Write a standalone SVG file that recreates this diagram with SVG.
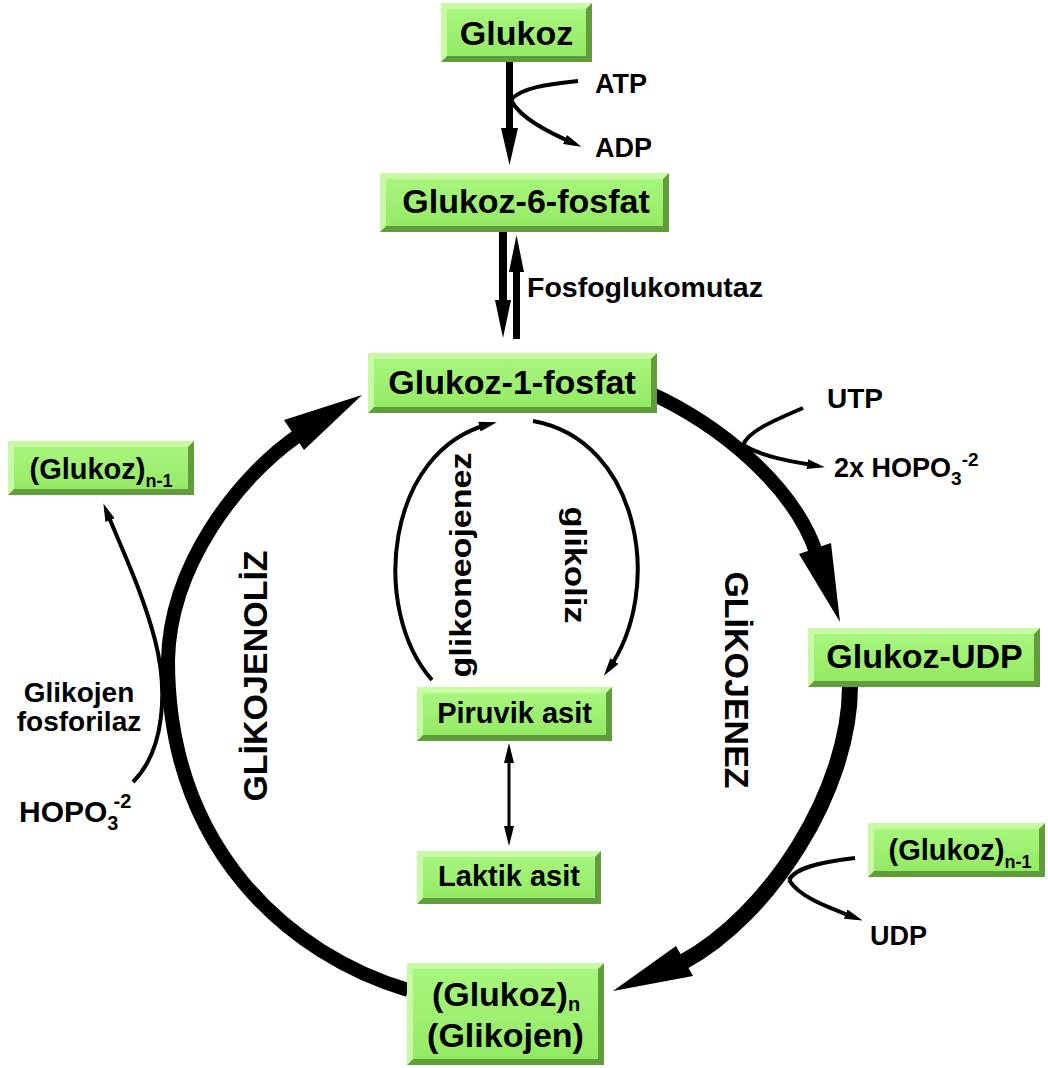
<svg xmlns="http://www.w3.org/2000/svg" width="1048" height="1068" viewBox="0 0 1048 1068">
<style>
  text { font-family: "Liberation Sans", Arial, sans-serif; font-weight: bold; fill: #000; }
  .bo { fill: #5f9e3a; }
  .bl { fill: #c8f9a4; }
  .bi { fill: url(#face); }
  .thin { fill: none; stroke: #000; stroke-width: 4; }
  .thick { fill: none; stroke: #000; }
  .ah { fill: #000; }
  .nt { font-size: 34px; text-anchor: middle; }
  .ns { font-size: 29px; text-anchor: middle; }
  .lb { font-size: 27px; }
</style>
<defs>
  <linearGradient id="face" x1="0" y1="0" x2="0" y2="1">
    <stop offset="0" stop-color="#a8f67e"/>
    <stop offset="1" stop-color="#94ea64"/>
  </linearGradient>
  <marker id="arr" markerUnits="userSpaceOnUse" viewBox="0 0 18 10" markerWidth="18" markerHeight="10" refX="11" refY="5" orient="auto">
    <path d="M0,0 L18,5 L0,10 z" fill="#000"/>
  </marker>
</defs>

<g id="connectors">
  <!-- Glukoz -> Glukoz-6-fosfat -->
  <rect x="506" y="62" width="7" height="68" class="ah"/>
  <polygon points="501,128 518,128 509.5,165" class="ah"/>
  <path class="thin" d="M578,81 C548,84 520,88 511,100"/>
  <path class="thin" d="M511,100 C520,118 548,132 575,144" marker-end="url(#arr)"/>
  <!-- G6P <-> G1P -->
  <rect x="499" y="232" width="8" height="70" class="ah"/>
  <polygon points="495,300 511,300 503,338" class="ah"/>
  <rect x="513" y="268" width="7" height="71" class="ah"/>
  <polygon points="509,272 524,272 516.5,235" class="ah"/>
  <!-- Glikojenez upper arc -->
  <path class="thick" stroke-width="14" d="M650,393 C720,425 793,485 816,552"/>
  <polygon points="840,622 799,554 831,543" class="ah"/>
  <path class="thin" d="M803,408 C770,422 748,432 743,445"/>
  <path class="thin" d="M743,445 C765,458 795,462 818,466" marker-end="url(#arr)"/>
  <!-- Glikojenez lower arc -->
  <path class="thick" stroke-width="16" d="M850,686 C850,790 770,915 683,962"/>
  <polygon points="613,991 676,946 693,976" class="ah"/>
  <path class="thin" d="M855,858 C820,862 795,868 789,880"/>
  <path class="thin" d="M789,880 C800,898 830,908 856,918" marker-end="url(#arr)"/>
  <!-- Glikojenoliz arc -->
  <path class="thick" stroke-width="14" d="M408,990 C290,955 168,850 168,660 C170,565 238,478 296,437"/>
  <polygon points="362,395 284,420 304,450" class="ah"/>
  <path class="thin" d="M133,782 C165,750 168,690 155,640 C142,590 120,545 106,510" marker-end="url(#arr)"/>
  <!-- glikoneojenez / glikoliz -->
  <path class="thin" d="M432,680 C370,610 385,450 490,424" marker-end="url(#arr)"/>
  <path class="thin" d="M533,421 C640,440 665,590 608,670" marker-end="url(#arr)"/>
  <!-- Piruvik <-> Laktik -->
  <line x1="509" y1="758" x2="509" y2="832" stroke="#000" stroke-width="3"/>
  <polygon points="509,743 504,763 514,763" class="ah"/>
  <polygon points="509,846 504,826 514,826" class="ah"/>
</g>

<g id="labels">
  <text class="lb" x="595" y="93">ATP</text>
  <text class="lb" x="595" y="157">ADP</text>
  <text x="527" y="297" font-size="28.5">Fosfoglukomutaz</text>
  <text x="827" y="408" font-size="28">UTP</text>
  <text class="lb" x="834" y="477">2x HOPO<tspan font-size="19" dy="8">3</tspan><tspan font-size="19" dy="-19">-2</tspan></text>
  <text class="lb" x="870" y="945">UDP</text>
  <text x="79" y="702" font-size="28" text-anchor="middle">Glikojen</text>
  <text x="79" y="731" font-size="28" text-anchor="middle">fosforilaz</text>
  <text x="19" y="822" font-size="30">HOPO<tspan font-size="20" dy="8">3</tspan><tspan font-size="20" dy="-22" dx="-5">-2</tspan></text>
  <text font-size="34" text-anchor="middle" transform="translate(267,676) rotate(-90)">GLİKOJENOLİZ</text>
  <text font-size="34" text-anchor="middle" transform="translate(725,680) rotate(90)">GLİKOJENEZ</text>
  <text font-size="29" text-anchor="middle" textLength="225" lengthAdjust="spacingAndGlyphs" transform="translate(471,565) rotate(-90)">glikoneojenez</text>
  <text font-size="29" text-anchor="middle" textLength="117" lengthAdjust="spacingAndGlyphs" transform="translate(565,565) rotate(90)">glikoliz</text>
</g>

<g id="n-glukoz">
  <rect x="441" y="3" width="151" height="59" class="bo"/>
  <polygon points="441,3 592,3 586,9 447,9 447,56 441,62" class="bl"/>
  <rect x="447" y="9" width="139" height="47" class="bi"/>
  <text class="nt" x="516.5" y="45" font-size="33">Glukoz</text>
</g>
<g id="n-g6p">
  <rect x="380" y="173" width="289" height="59" class="bo"/>
  <polygon points="380,173 669,173 663,179 386,179 386,226 380,232" class="bl"/>
  <rect x="386" y="179" width="277" height="47" class="bi"/>
  <text class="nt" x="526" y="213">Glukoz-6-fosfat</text>
</g>
<g id="n-g1p">
  <rect x="368" y="353" width="289" height="60" class="bo"/>
  <polygon points="368,353 657,353 651,359 374,359 374,407 368,413" class="bl"/>
  <rect x="374" y="359" width="277" height="48" class="bi"/>
  <text class="nt" x="512" y="394">Glukoz-1-fosfat</text>
</g>
<g id="n-gudp">
  <rect x="808" y="628" width="232" height="59" class="bo"/>
  <polygon points="808,628 1040,628 1034,634 814,634 814,681 808,687" class="bl"/>
  <rect x="814" y="634" width="220" height="47" class="bi"/>
  <text class="nt" x="924.5" y="668">Glukoz-UDP</text>
</g>
<g id="n-glukozn1-left">
  <rect x="8" y="441" width="186" height="54" class="bo"/>
  <polygon points="8,441 194,441 188,447 14,447 14,489 8,495" class="bl"/>
  <rect x="14" y="447" width="174" height="42" class="bi"/>
  <text class="ns" x="101" y="479">(Glukoz)<tspan font-size="18" dy="8">n-1</tspan></text>
</g>
<g id="n-glukozn1-right">
  <rect x="868" y="823" width="177" height="54" class="bo"/>
  <polygon points="868,823 1045,823 1039,829 874,829 874,871 868,877" class="bl"/>
  <rect x="874" y="829" width="165" height="42" class="bi"/>
  <text class="ns" x="960" y="860">(Glukoz)<tspan font-size="18" dy="8">n-1</tspan></text>
</g>
<g id="n-piruvik">
  <rect x="417" y="687" width="195" height="54" class="bo"/>
  <polygon points="417,687 612,687 606,693 423,693 423,735 417,741" class="bl"/>
  <rect x="423" y="693" width="183" height="42" class="bi"/>
  <text class="ns" x="514.5" y="723">Piruvik asit</text>
</g>
<g id="n-laktik">
  <rect x="417" y="851" width="184" height="53" class="bo"/>
  <polygon points="417,851 601,851 595,857 423,857 423,898 417,904" class="bl"/>
  <rect x="423" y="857" width="172" height="41" class="bi"/>
  <text class="ns" x="509" y="886">Laktik asit</text>
</g>
<g id="n-glikojen">
  <rect x="407" y="963" width="197" height="102" class="bo"/>
  <polygon points="407,963 604,963 598,969 413,969 413,1059 407,1065" class="bl"/>
  <rect x="413" y="969" width="185" height="90" class="bi"/>
  <text class="nt" x="506" y="1006">(Glukoz)<tspan font-size="20" dy="5">n</tspan></text>
  <text class="nt" x="505.5" y="1047">(Glikojen)</text>
</g>
</svg>
